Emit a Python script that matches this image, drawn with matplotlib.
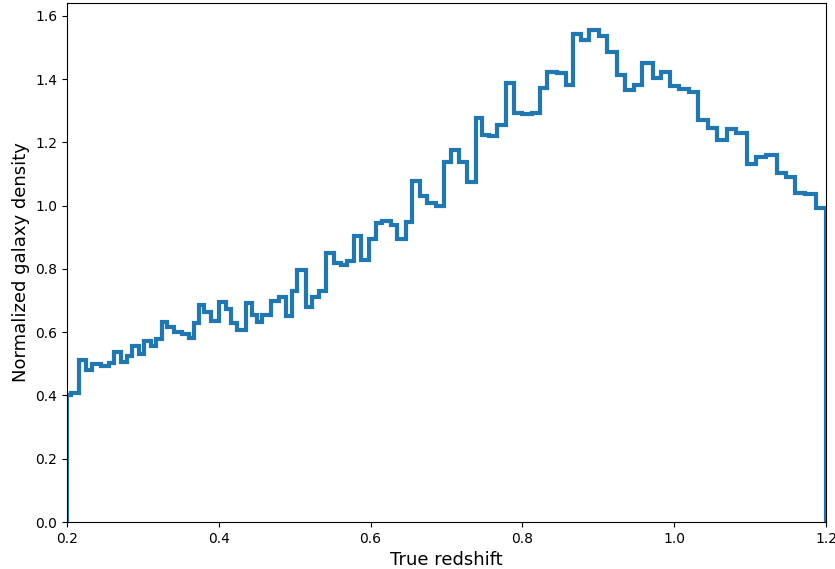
import matplotlib
matplotlib.use("Agg")
import matplotlib.pyplot as plt
import numpy as np

# Bin edges (true redshift) and normalized densities
bin_edges = [0.2, 0.2049, 0.2158, 0.2246, 0.2333, 0.2444, 0.2553, 0.2619, 0.2708, 0.2794,
             0.2860, 0.2949, 0.3014, 0.3103, 0.3169, 0.3248, 0.3321, 0.3410, 0.3519, 0.3607,
             0.3673, 0.3739, 0.3805, 0.3893, 0.4003, 0.4091, 0.4157, 0.4244, 0.4354, 0.4441,
             0.4499, 0.4573, 0.4684, 0.4793, 0.4881, 0.4968, 0.5034, 0.5145, 0.5232, 0.5320,
             0.5409, 0.5518, 0.5606, 0.5693, 0.5781, 0.5870, 0.5979, 0.6067, 0.6154, 0.6265,
             0.6352, 0.6462, 0.6549, 0.6651, 0.6747, 0.6858, 0.6967, 0.7055, 0.7165, 0.7274,
             0.7385, 0.7472, 0.7560, 0.7669, 0.7780, 0.7889, 0.7999, 0.8130, 0.8228, 0.8320,
             0.8460, 0.8571, 0.8671, 0.8768, 0.8877, 0.9009, 0.9119, 0.9242, 0.9352, 0.9470,
             0.9580, 0.9725, 0.9830, 0.9945, 1.0063, 1.0195, 1.0314, 1.0445, 1.0568, 1.0692,
             1.0810, 1.0963, 1.1074, 1.1206, 1.1350, 1.1469, 1.1588, 1.1726, 1.1864, 1.2]

density = [0.402, 0.409, 0.512, 0.481, 0.499, 0.493, 0.502, 0.539, 0.507, 0.525,
           0.557, 0.531, 0.572, 0.557, 0.579, 0.633, 0.618, 0.602, 0.594, 0.581,
           0.630, 0.686, 0.665, 0.637, 0.697, 0.673, 0.630, 0.607, 0.693, 0.656,
           0.633, 0.655, 0.700, 0.711, 0.651, 0.731, 0.797, 0.681, 0.712, 0.730,
           0.850, 0.820, 0.813, 0.825, 0.904, 0.828, 0.894, 0.944, 0.952, 0.939,
           0.894, 0.950, 1.078, 1.030, 1.010, 1.000, 1.139, 1.176, 1.139, 1.074,
           1.277, 1.224, 1.220, 1.255, 1.389, 1.294, 1.290, 1.294, 1.371, 1.424,
           1.419, 1.382, 1.543, 1.524, 1.556, 1.537, 1.487, 1.413, 1.366, 1.382,
           1.450, 1.403, 1.424, 1.377, 1.368, 1.359, 1.271, 1.245, 1.208, 1.242,
           1.231, 1.132, 1.155, 1.160, 1.105, 1.090, 1.040, 1.038, 0.992]

x_label = "True redshift"
y_label = "Normalized galaxy density"

fig = plt.figure(figsize=(8.35, 5.69), dpi=100)
ax = fig.add_axes([67/835, 47/569, 759/835, 519/569])

ax.stairs(density, bin_edges, baseline=0, fill=False, color="#1f77b4", linewidth=3)

ax.set_xlim(0.2, 1.2)
ax.set_ylim(0, 1.641)
ax.set_xticks(np.arange(0.2, 1.21, 0.2))
ax.set_yticks(np.arange(0, 1.61, 0.2))
ax.set_xlabel(x_label, fontsize=13)
ax.set_ylabel(y_label, fontsize=13)

fig.savefig("out.png", dpi=100)
